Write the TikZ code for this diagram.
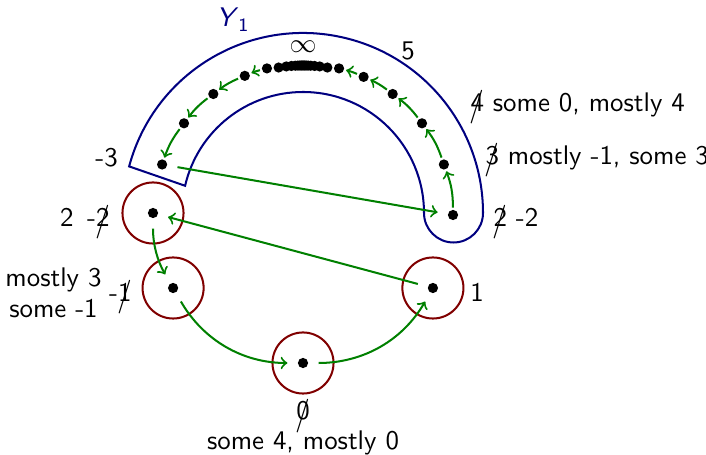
\documentclass[tikz,border=0pt]{standalone}
\usepackage{fontspec}
\usepackage{graphicx}
\renewcommand\familydefault{\sfdefault}
\newcommand\stk[1]{{\setbox0=\hbox{#1}\rlap{\hbox to\wd0{\hss\lower1.6pt\hbox{\scalebox{1.1}[1.25]{/}}\hss}}\box0}}
\begin{document}
\begin{tikzpicture}[x=0.3717pt,y=0.3717pt,
  bandc/.style={draw=blue!50!black,line width=0.75pt},
  ring/.style={circle,draw=red!50!black,line width=0.75pt,minimum size=22.7pt,inner sep=0pt},
  dot/.style={circle,fill=black,minimum size=3.8pt,inner sep=0pt,outer sep=0pt},
  arcarrow/.style={->,draw=green!50!black,line width=0.75pt,shorten >=0.8pt,shorten <=0.8pt},
  longarrow/.style={->,draw=green!50!black,line width=0.75pt,shorten >=3.9pt,shorten <=3.9pt},
  lab/.style={inner sep=0pt}]
\useasboundingbox (-303,-242) rectangle (403,213);
% band
\draw[bandc] (165:180) arc[start angle=165,end angle=0,radius=180]
  arc[start angle=0,end angle=-180,radius=29.5]
  arc[start angle=0,end angle=167,radius=121] -- cycle;
% dots on band
\node[dot] (r0) at (150,-2) {};
\foreach \a/\n in {19/r1,37/r2,53/r3,66/r4,76/r5,104/l5,113/l4,127/l3,143/l2,161/l1}
  \node[dot] (\n) at (\a:149) {};
\foreach \a [count=\i] in {80.5,83.5,85.5,87,88,88.8,89.4,90,90.6,91.2,92,93,94.5,96.5,99.5}
  \node[dot] (c\i) at (\a:147.5) {};
% rings
\node[ring] (k2) at (180:150) {};
\node[ring] (km1) at (210:150) {};
\node[ring] (k0) at (270:150) {};
\node[ring] (k1) at (330:150) {};
\node[dot] (p2) at (180:150) {};
\node[dot] (pm1) at (210:150) {};
\node[dot] (p0) at (270:150) {};
\node[dot] (p1) at (330:150) {};
% band arrows
\draw[arcarrow] (r0) to[bend right=10] (r1);
\draw[arcarrow] (r1) to[bend right=9] (r2);
\draw[arcarrow] (r2) to[bend right=8] (r3);
\draw[arcarrow] (r3) to[bend right=6.5] (r4);
\draw[arcarrow] (r4) to[bend right=5] (r5);
\draw[arcarrow] (l5) to[bend right=4.5] (l4);
\draw[arcarrow] (l4) to[bend right=7] (l3);
\draw[arcarrow] (l3) to[bend right=8] (l2);
\draw[arcarrow] (l2) to[bend right=9] (l1);
% long arrows
\draw[longarrow] (l1) -- (r0);
\draw[longarrow] (p1) -- (p2);
\draw[longarrow] (p2) to[bend right=15] (pm1);
\draw[longarrow] (pm1) to[bend right=30] (p0);
\draw[longarrow] (p0) to[bend right=30] (p1);
% labels
\node[lab] (inf) at (0,166) {$\infty$};
\node[lab,anchor=base] (five) at (105,153.5) {5};
\node[lab,anchor=base west] (t4) at (167,101.5) {\stk{4} some 0, mostly 4};
\node[lab,anchor=base west] (t3) at (182,48.5) {\stk{3} mostly -1, some 3};
\node[lab,anchor=base west] (t2) at (190,-13.5) {\stk{2} -2};
\node[lab,anchor=base] (m3) at (-196.5,46.5) {-3};
\node[lab,anchor=base west,text=blue!50!black] (y1) at (-87,186) {\textsl{Y}\textsubscript{1}};
\node[lab,anchor=base east] (l2t) at (-193,-13.5) {2\hspace{0.5em}-\stk{2}};
\node[lab,anchor=base east] (lm1) at (-171,-88.5) {-\stk{1}};
\node[lab,anchor=base] (ms1) at (-249.5,-73.5) {mostly 3};
\node[lab,anchor=base] (ms2) at (-249.5,-104.5) {some -1};
\node[lab,anchor=base] (one) at (174,-88.5) {1};
\node[lab,anchor=base] (zero) at (0,-207) {\stk{0}};
\node[lab,anchor=base] (s4) at (0,-237) {some 4, mostly 0};
\end{tikzpicture}
\end{document}
